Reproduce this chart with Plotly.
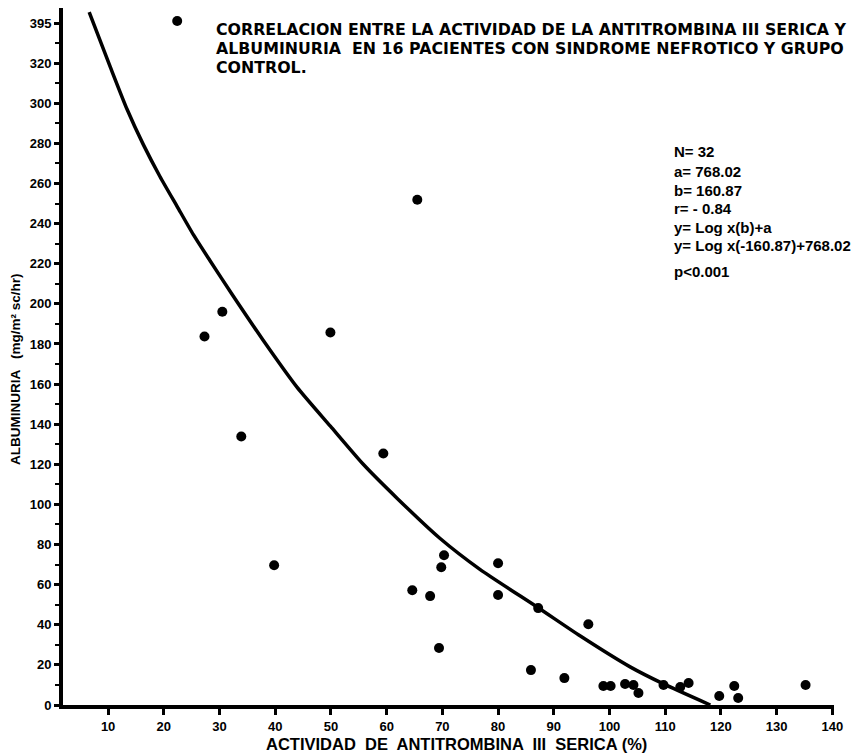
import plotly.graph_objects as go

# Scatter data: actividad de antitrombina III (%) vs albuminuria
act_x = [22.4, 27.3, 30.5, 33.9, 39.8, 49.9, 59.4, 65.5, 64.6, 67.8, 70.3, 69.8, 69.4,
         80.0, 80.0, 87.2, 96.2, 85.9, 91.9, 98.9, 100.2, 102.8, 104.3, 105.2, 109.7,
         112.7, 114.2, 119.7, 122.4, 123.1, 135.2]
alb_y = [341, 183.7, 196.1, 133.9, 69.7, 185.7, 125.4, 251.9, 57.2, 54.3, 74.7, 68.7, 28.4,
         70.7, 54.8, 48.3, 40.3, 17.4, 13.4, 9.5, 9.5, 10.5, 10.0, 6.0, 10.0,
         9.0, 11.0, 4.5, 9.5, 3.5, 10.0]

# Regression curve as drawn
curve_x = [6.6, 10.4, 13.4, 16.3, 19.3, 22.4, 25.3, 28.3, 32.3, 37.8, 43.9, 49.9, 55.8,
           61.9, 69.6, 76.8, 87.2, 94.7, 103.7, 109.7, 118.1]
curve_y = [345.4, 318.0, 297.0, 279.5, 263.5, 248.5, 234.5, 221.5, 204.5, 182.0, 158.5,
           139.0, 120.0, 103.0, 83.0, 67.5, 48.5, 34.5, 19.0, 10.5, 0.0]

x_ticks = [10, 20, 30, 40, 50, 60, 70, 80, 90, 100, 110, 120, 130, 140]
y_ticks = [0, 20, 40, 60, 80, 100, 120, 140, 160, 180, 200, 220, 240, 260, 280, 300, 320, 340]
y_labels = ["0", "20", "40", "60", "80", "100", "120", "140", "160", "180", "200", "220",
            "240", "260", "280", "300", "320", "395"]

title_lines = [
    "CORRELACION ENTRE LA ACTIVIDAD DE LA ANTITROMBINA III SERICA Y",
    "ALBUMINURIA  EN 16 PACIENTES CON SINDROME NEFROTICO Y GRUPO",
    "CONTROL.",
]
stats_lines = ["N= 32", "a= 768.02", "b= 160.87", "r= - 0.84", "y= Log x(b)+a",
               "y= Log x(-160.87)+768.02", "p<0.001"]

FONT = "Liberation Sans"
TITLE_FONT = "DejaVu Sans"
W, H = 856, 756
ML, MR, MT, MB = 63, 22, 8, 51
PW, PH = W - ML - MR, H - MT - MB


def pxx(x):
    return (x - ML) / PW


def pxy(y):
    return (H - MB - y) / PH


fig = go.Figure()
fig.add_trace(go.Scatter(x=curve_x, y=curve_y, mode="lines",
                         line=dict(color="black", width=3.5, shape="spline", smoothing=0.6),
                         showlegend=False, hoverinfo="skip"))
fig.add_trace(go.Scatter(x=act_x, y=alb_y, mode="markers",
                         marker=dict(color="black", size=10),
                         showlegend=False))

annotations = []
for line, yc in zip(title_lines, [29, 48.5, 68]):
    annotations.append(dict(text=line, xref="paper", yref="paper",
                            x=pxx(214), y=pxy(yc), xanchor="left", yanchor="middle",
                            showarrow=False, align="left",
                            font=dict(family=TITLE_FONT, size=15.8, color="black", weight="bold")))
for line, yc in zip(stats_lines, [152, 171, 190, 208, 227, 246, 271]):
    annotations.append(dict(text=line, xref="paper", yref="paper",
                            x=pxx(672), y=pxy(yc), xanchor="left", yanchor="middle",
                            showarrow=False, align="left",
                            font=dict(family=FONT, size=15, color="black", weight="bold")))
annotations.append(dict(text="ALBUMINURIA   (mg/m² sc/hr)", xref="paper", yref="paper",
                        x=pxx(15), y=pxy(369), xanchor="center", yanchor="middle",
                        textangle=-90, showarrow=False,
                        font=dict(family=FONT, size=13.5, color="black", weight="bold")))
annotations.append(dict(text="ACTIVIDAD  DE  ANTITROMBINA  III  SERICA (%)", xref="paper", yref="paper",
                        x=pxx(456), y=pxy(744), xanchor="center", yanchor="middle",
                        showarrow=False,
                        font=dict(family=FONT, size=16.5, color="black", weight="bold")))

fig.update_layout(
    width=W, height=H,
    margin=dict(l=ML, r=MR, t=MT, b=MB),
    paper_bgcolor="white", plot_bgcolor="white",
    annotations=annotations,
    xaxis=dict(range=[1.9, 140.3], showgrid=False, zeroline=False,
               showline=True, linecolor="black", linewidth=4,
               tickmode="array", tickvals=x_ticks, ticks="outside", ticklen=6,
               tickwidth=3, tickcolor="black",
               tickfont=dict(family=FONT, size=13, color="black", weight="bold")),
    yaxis=dict(range=[0, 347.5], showgrid=False, zeroline=False,
               showline=True, linecolor="black", linewidth=4,
               tickmode="array", tickvals=y_ticks, ticktext=y_labels,
               ticks="outside", ticklen=5, tickwidth=3, tickcolor="black",
               minor=dict(tickmode="linear", tick0=10, dtick=20, ticks="outside",
                          ticklen=4, tickwidth=2, tickcolor="black"),
               tickfont=dict(family=FONT, size=13, color="black", weight="bold")),
)

fig.write_html("out.html", config={"displayModeBar": False},
               post_script="document.body.style.margin='0px';")
